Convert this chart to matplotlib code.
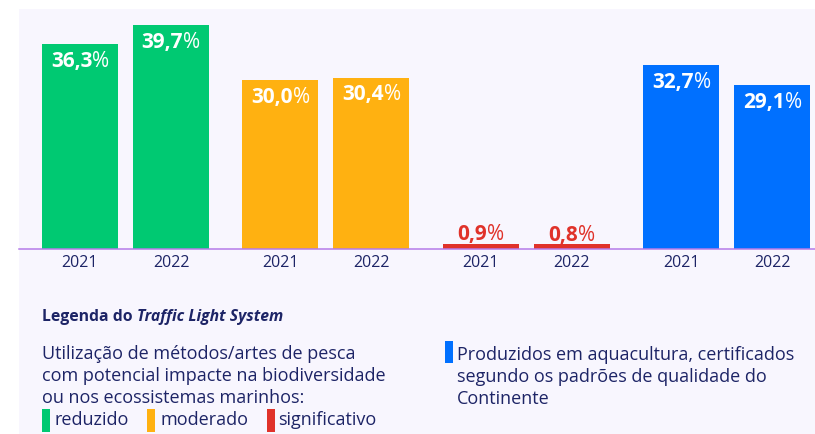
import matplotlib
matplotlib.use("Agg")
import matplotlib.pyplot as plt
from matplotlib.patches import Rectangle
from matplotlib.offsetbox import TextArea, HPacker, AnnotationBbox

# ── Dados ────────────────────────────────────────────────
categorias   = ["reduzido", "moderado", "significativo", "aquacultura"]
anos         = ["2021", "2022"]
valores_2021 = [36.3, 30.0, 0.9, 32.7]
valores_2022 = [39.7, 30.4, 0.8, 29.1]
cores        = ["#00c972", "#ffb111", "#e0322a", "#0070ff"]

# ── Estilo ───────────────────────────────────────────────
W, H     = 815, 434
FUNDO    = "#f8f6fe"
NAVY     = "#1d2466"
LINHA    = "#b57be8"
FONTE    = "Open Sans"
PASSO_G  = 2.203        # distância entre grupos (em larguras de passo)
LARGURA  = 0.835

plt.rcParams["font.family"] = [FONTE, "DejaVu Sans"]


def px(x, y):
    """pixel (topo-esquerda) -> coordenadas da figura"""
    return x / W, 1 - y / H


fig = plt.figure(figsize=(W / 100, H / 100), dpi=100)
fig.patch.set_facecolor("white")
fig.patches.append(Rectangle(px(19, H), 1, (H - 9) / H, transform=fig.transFigure,
                             facecolor=FUNDO, edgecolor="none", zorder=-10))

x0, y0 = px(19, 249)
_, y1 = px(19, 9)
ax = fig.add_axes([x0, y0, 1 - x0, y1 - y0])
ax.set_facecolor("none")

posicoes, alturas, cores_b, rotulos_x = [], [], [], []
for i, cat in enumerate(categorias):
    for j, vals in enumerate([valores_2021, valores_2022]):
        posicoes.append(i * PASSO_G + j)
        alturas.append(vals[i])
        cores_b.append(cores[i])
        rotulos_x.append(anos[j])

ax.bar(posicoes, alturas, width=LARGURA, color=cores_b, zorder=2)
ax.set_xlim((19 - 80) / 91, (815 - 80) / 91)
ax.set_ylim(0, 240 / 5.64)

for s in ["top", "left", "right"]:
    ax.spines[s].set_visible(False)
ax.spines["bottom"].set_color(LINHA)
ax.spines["bottom"].set_linewidth(1.1)
ax.spines["bottom"].set_zorder(3)
ax.set_yticks([])
ax.set_xticks(posicoes, rotulos_x)
ax.tick_params(axis="x", length=0, pad=4, labelsize=11.5, labelcolor=NAVY)

# ── Rótulos de valor ─────────────────────────────────────
for x, v, c in zip(posicoes, alturas, cores_b):
    numero = f"{v:.1f}".replace(".", ",")
    dentro = v > 5
    cor_t = "white" if dentro else c
    caixa = HPacker(children=[
        TextArea(numero, textprops=dict(color=cor_t, fontsize=15, fontweight="bold", family=FONTE)),
        TextArea("%", textprops=dict(color=cor_t, fontsize=15, fontweight="normal", family=FONTE)),
    ], pad=0, sep=0, align="baseline")
    if dentro:
        ab = AnnotationBbox(caixa, (x, v), xybox=(0, -5), xycoords="data",
                            boxcoords="offset points", box_alignment=(0.5, 1), frameon=False)
    else:
        ab = AnnotationBbox(caixa, (x, v), xybox=(0, -1), xycoords="data",
                            boxcoords="offset points", box_alignment=(0.5, 0), frameon=False)
    ab.set_zorder(4)
    ax.add_artist(ab)

# ── Legenda ──────────────────────────────────────────────
renderer = fig.canvas.get_renderer()


def texto_seguido(x, y, partes, **kw):
    """desenha várias partes de texto lado a lado"""
    for txt, props in partes:
        t = fig.text(*px(x, y), txt, va="baseline", ha="left", color=NAVY, **props, **kw)
        bb = t.get_window_extent(renderer)
        x += bb.width


texto_seguido(42, 321, [("Legenda do ", dict(fontweight="bold")),
                        ("Traffic Light System", dict(fontweight="bold", style="italic"))],
              fontsize=11.3)

CORPO = 13
linhas_esq = ["Utilização de métodos/artes de pesca",
              "com potencial impacte na biodiversidade",
              "ou nos ecossistemas marinhos:"]
for k, linha in enumerate(linhas_esq):
    fig.text(*px(42, 359 + 22 * k), linha, va="baseline", ha="left", color=NAVY, fontsize=CORPO)

legenda_x = [(42, 54), (147, 160), (267, 278)]
for (mx, tx), nome, c in zip(legenda_x, categorias[:3], cores[:3]):
    fig.patches.append(Rectangle(px(mx, 432), 8 / W, 23 / H, transform=fig.transFigure,
                                 facecolor=c, edgecolor="none"))
    fig.text(*px(tx, 425), nome, va="baseline", ha="left", color=NAVY, fontsize=CORPO)

fig.patches.append(Rectangle(px(445, 363), 8 / W, 22 / H, transform=fig.transFigure,
                             facecolor=cores[3], edgecolor="none"))
linhas_dir = ["Produzidos em aquacultura, certificados",
              "segundo os padrões de qualidade do",
              "Continente"]
for k, linha in enumerate(linhas_dir):
    fig.text(*px(457, 360 + 22 * k), linha, va="baseline", ha="left", color=NAVY, fontsize=CORPO)

fig.savefig("out.png", dpi=100, facecolor=fig.get_facecolor())
